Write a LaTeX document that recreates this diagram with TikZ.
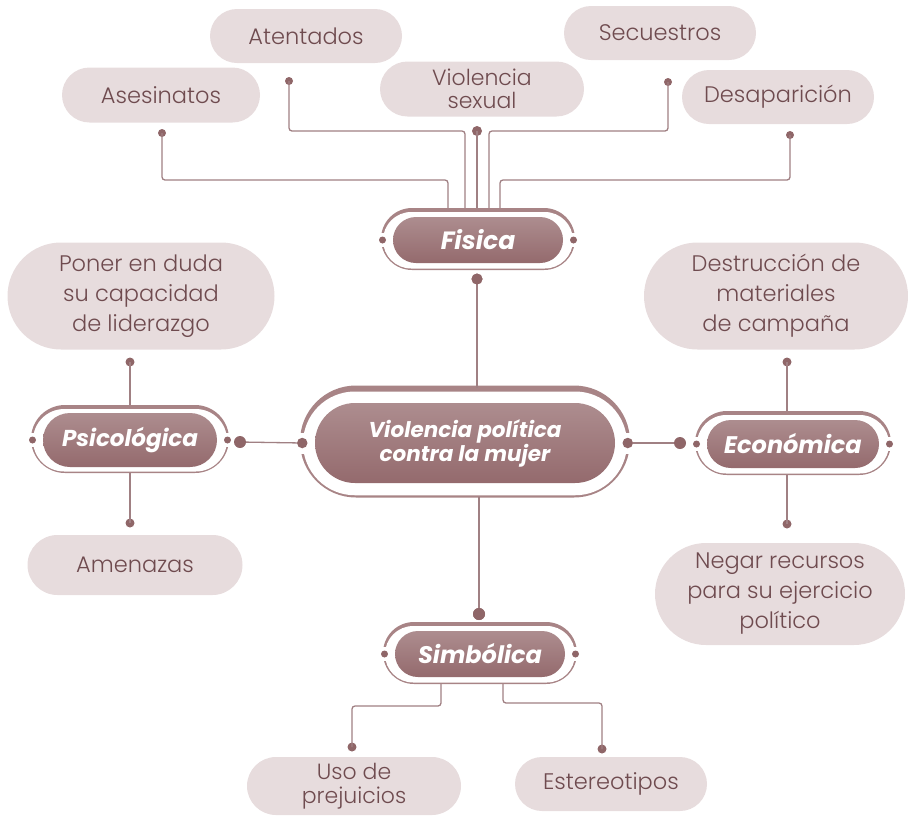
\documentclass[tikz,border=0pt]{standalone}
\usepackage{fontspec}
\setmainfont{Poppins}
\newfontfamily\lightf{Poppins Light}
\usetikzlibrary{shapes.misc}
\definecolor{ringc}{HTML}{A88486}
\definecolor{pilltop}{HTML}{AD8D8F}
\definecolor{pillbot}{HTML}{946A6D}
\definecolor{lightbox}{HTML}{E7DCDD}
\definecolor{txt}{HTML}{6F4B4F}
\definecolor{linec}{HTML}{A08083}
\definecolor{dotc}{HTML}{8F6668}
\tikzset{
  leaf/.style={rounded rectangle, fill=lightbox, text=txt, inner sep=0pt, align=center, font=\lightf\fontsize{22.5}{26}\selectfont},
  dotn/.style={circle, fill=dotc, inner sep=0pt, minimum size=#1},
  conn/.style={draw=linec, line width=1.3pt, rounded corners=3pt},
  ringo/.style={rounded rectangle, fill=ringc, inner sep=0pt},
  ringw/.style={rounded rectangle, fill=white, inner sep=0pt},
  mainlab/.style={rounded rectangle, top color=pilltop, bottom color=pillbot, inner sep=0pt, text=white, align=center, font=\bfseries\itshape},
}
% #1 name, #2 cx, #3 cy, #4 w, #5 h, #6 hm, #7 vm, #8 scale, #9 text
\newcommand\mainnode[9]{%
  \node[ringo, minimum width={#4+2*#6}, minimum height={#5+2*#7}] (#1-o) at (#2,#3-#8) {};
  \node[ringw, minimum width={#4+2*#6-4*#8}, minimum height={#5+2*#7-5.5*#8}] (#1-w) at (#2,#3+0.25*#8) {};
  \fill[white] (#2-#4/2-#6-2,#3-7*#8) rectangle (#2-#4/2-#6+3*#8,#3+7*#8);
  \fill[white] (#2+#4/2+#6+2,#3-7*#8) rectangle (#2+#4/2+#6-3*#8,#3+7*#8);
  \node[mainlab, minimum width=#4, minimum height=#5] (#1) at (#2,#3) {#9};
  \node[dotn=7*#8] (#1-l) at (#2-#4/2-#6+1.5*#8,#3) {};
  \node[dotn=7*#8] (#1-r) at (#2+#4/2+#6-1.5*#8,#3) {};
}
\begin{document}
\begin{tikzpicture}[x=1pt,y=-1pt]
\useasboundingbox (0,0) rectangle (908,815);

% leaves
\node[leaf, minimum width=192, minimum height=54] (atent) at (306,36) {Atentados};
\node[leaf, minimum width=192, minimum height=54] (secue) at (660,33) {Secuestros};
\node[leaf, minimum width=198, minimum height=55] (asesi) at (161,95) {Asesinatos};
\node[leaf, minimum width=204, minimum height=55, font=\lightf\fontsize{22}{23}\selectfont] (viols) at (482,89) {Violencia\\sexual};
\node[leaf, minimum width=192, minimum height=54] (desap) at (778,97) {Desaparición};
\node[leaf, minimum width=267, minimum height=107, font=\lightf\fontsize{22.5}{30}\selectfont] (poner) at (141,296) {Poner en duda\\su capacidad\\de liderazgo};
\node[leaf, minimum width=264, minimum height=107, font=\lightf\fontsize{22.5}{30}\selectfont] (destr) at (776,296) {Destrucción de\\materiales\\de campaña};
\node[leaf, minimum width=215, minimum height=60] (amena) at (135,565) {Amenazas};
\node[leaf, minimum width=250, minimum height=102, font=\lightf\fontsize{22.5}{30}\selectfont] (negar) at (780,594) {Negar recursos\\para su ejercicio\\político};
\node[leaf, minimum width=214, minimum height=58, font=\lightf\fontsize{22}{24}\selectfont] (usopr) at (354,786) {Uso de\\prejuicios};
\node[leaf, minimum width=192, minimum height=54] (ester) at (611,784) {Estereotipos};

% dots of leaves
\node[dotn=8] (d1) at (162,133) {};
\node[dotn=8] (d2) at (289,81) {};
\node[dotn=10] (d3) at (477,131) {};
\node[dotn=8] (d4) at (668,82) {};
\node[dotn=8] (d5) at (790,135) {};
\node[dotn=9] (pu) at (130,362) {};
\node[dotn=9] (pd) at (130,523) {};
\node[dotn=9] (eu) at (787,362) {};
\node[dotn=9] (ed) at (787,524) {};
\node[dotn=9] (su) at (352,747) {};
\node[dotn=9] (se) at (602,749) {};

% anchor coordinates on the main nodes
\coordinate (f1) at (448,210);
\coordinate (f2) at (465,210);
\coordinate (f3) at (477,210);
\coordinate (f4) at (489,210);
\coordinate (f5) at (500,210);
\coordinate (ctop) at (477,388);
\coordinate (cbot) at (479,497);
\coordinate (ptop) at (130,412);
\coordinate (pbot) at (130,470);
\coordinate (etop) at (787,415);
\coordinate (ebot) at (787,470);
\coordinate (s1) at (441,680);
\coordinate (s2) at (503,680);

% connectors
\draw[conn] (d1.center) |- ([yshift=30pt]f1) -- (f1);
\draw[conn] (d2.center) |- ([yshift=79pt]f2) -- (f2);
\draw[conn] (d3.center) -- (f3);
\draw[conn] (d4.center) |- ([yshift=79pt]f4) -- (f4);
\draw[conn] (d5.center) |- ([yshift=30pt]f5) -- (f5);
\draw[conn] (pu.center) -- (ptop);
\draw[conn] (pd.center) -- (pbot);
\draw[conn] (eu.center) -- (etop);
\draw[conn] (ed.center) -- (ebot);
\draw[conn] (s1) |- ([yshift=-26pt]su |- s1) -- (su.center);
\draw[conn] (s2) |- ([yshift=-23pt]se |- s2) -- (se.center);

% main nodes
\mainnode{fis}{478}{240}{170}{46}{12}{8}{1}{\fontsize{25}{28}\selectfont Fisica}
\mainnode{psi}{130}{440}{174}{54}{12}{7}{1}{\fontsize{23}{28}\selectfont Psicológica}
\mainnode{eco}{793}{444}{172}{48}{12}{8}{1}{\fontsize{24}{28}\selectfont Económica}
\mainnode{sim}{480}{654}{170}{46}{12}{8}{1}{\fontsize{24}{28}\selectfont Simbólica}
\mainnode{cen}{465}{443}{300}{80}{15}{16}{1.5}{\fontsize{21.5}{28}\selectfont Violencia política\\\fontsize{21.5}{28}\selectfont contra la mujer}

% big connector dots
\node[dotn=11] (fdot) at (477,279) {};
\node[dotn=12] (sdot) at (479,614) {};
\node[dotn=12] (pdot) at (240,442) {};
\node[dotn=12] (edot) at (680,443) {};
\draw[conn] (fdot.center) -- (ctop);
\draw[conn] (cbot) -- (sdot.center);
\draw[conn] (cen-l) -- (pdot);
\draw[conn] (cen-r) -- (edot);
\node[dotn=11] at (fdot) {};
\node[dotn=12] at (sdot) {};
\end{tikzpicture}
\end{document}
